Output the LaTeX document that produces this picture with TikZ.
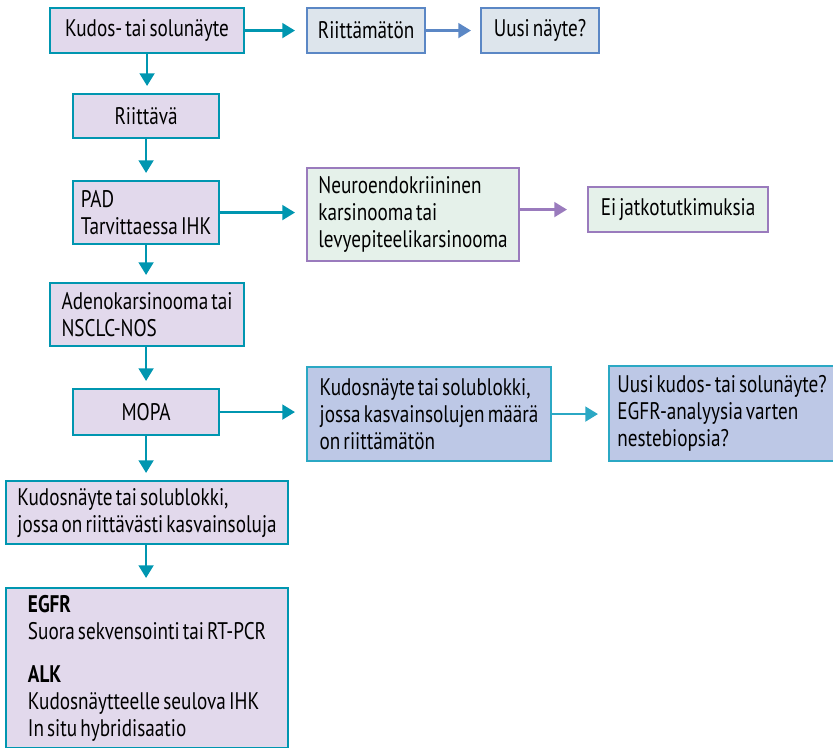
\documentclass[tikz,border=0pt]{standalone}
\usepackage{fontspec}
\setmainfont{PT Sans}[FakeStretch=0.8, WordSpace=0.6]
\usetikzlibrary{arrows.meta}

\definecolor{flowteal}{HTML}{0096B0}
\definecolor{lilacfill}{HTML}{E2D9EC}
\definecolor{blueline}{HTML}{5B87C5}
\definecolor{greyfill}{HTML}{DDE5EC}
\definecolor{purpleline}{HTML}{9A7BBD}
\definecolor{mintfill}{HTML}{E5F1EA}
\definecolor{periwinkle}{HTML}{BDC8E6}
\definecolor{cyanline}{HTML}{2BA8C4}

\tikzset{
    box/.style={draw=flowteal, fill=lilacfill, line width=1.6pt, anchor=north west,
        inner sep=0pt, align=left, font=\fontsize{18}{20.25}\selectfont},
    midbox/.style={box, align=center},
    greybox/.style={draw=blueline, fill=greyfill},
    mintbox/.style={draw=purpleline, fill=mintfill},
    bluebox/.style={draw=cyanline, fill=periwinkle},
    flow/.style={draw=flowteal, line width=2pt, -{Triangle[length=9.5pt,width=11pt]}},
}

\begin{document}
\begin{tikzpicture}[x=0.75pt,y=-0.75pt]
    \useasboundingbox (0,0) rectangle (833,748);

    % Main column
    \node[midbox, minimum width=145.5pt, minimum height=33.75pt] (sample) at (49,7) {Kudos- tai solunäyte};
    \node[midbox, minimum width=109.5pt, minimum height=33pt] (enough) at (72,93) {Riittävä};
    \node[box, minimum width=109.5pt, minimum height=47.25pt] (pad) at (72,180) {PAD\\Tarvittaessa IHK};
    \node[box, minimum width=145.5pt, minimum height=47.25pt] (adeno) at (49,282) {Adenokarsinooma tai\\NSCLC-NOS};
    \node[midbox, minimum width=109.5pt, minimum height=34.5pt] (mopa) at (72,388) {MOPA};
    \node[box, minimum width=211.5pt, minimum height=47.25pt] (block) at (5,480) {Kudosnäyte tai solublokki,\\jossa on riittävästi kasvainsoluja};
    \node[box, minimum width=211.5pt, minimum height=120pt] (tests) at (5,587)
        {\textbf{EGFR}\\Suora sekvensointi tai RT-PCR\\[12pt]\textbf{ALK}\\Kudosnäytteelle seulova IHK\\In situ hybridisaatio};

    % Side boxes
    \node[midbox, greybox, minimum width=88.5pt, minimum height=33.75pt] (scant) at (306,7) {Riittämätön};
    \node[midbox, greybox, minimum width=88.5pt, minimum height=33.75pt] (resample) at (480,7) {Uusi näyte?};
    \node[box, mintbox, minimum width=159pt, minimum height=69.75pt] (neuro) at (306,167) {Neuroendokriininen\\karsinooma tai\\levyepiteelikarsinooma};
    \node[midbox, mintbox, minimum width=135pt, minimum height=33.75pt] (nomore) at (587,186) {Ei jatkotutkimuksia};
    \node[box, bluebox, minimum width=183pt, minimum height=70.5pt] (fewcells) at (306,366) {Kudosnäyte tai solublokki,\\jossa kasvainsolujen määrä\\on riittämätön};
    \node[box, bluebox, minimum width=169.5pt, minimum height=71.25pt] (liquid) at (608,365) {Uusi kudos- tai solunäyte?\\EGFR-analyysia varten\\nestebiopsia?};

    % Downward arrows
    \draw[flow, shorten >=5.25pt] (sample.south) -- (sample.south |- enough.north);
    \draw[flow, shorten >=5.25pt] (enough) -- (pad);
    \draw[flow, shorten >=5.25pt] (pad) -- (pad |- adeno.north);
    \draw[flow, shorten >=5.25pt] (adeno.south -| mopa) -- (mopa);
    \draw[flow, shorten >=5.25pt] (mopa) -- (mopa |- block.north);
    \draw[flow, shorten >=6.75pt] (block.south -| mopa) -- (mopa |- tests.north);

    % Sideways arrows
    \draw[flow, shorten >=8.25pt] (sample) -- (scant);
    \draw[flow, draw=blueline, -{Triangle[length=9.5pt,width=11pt,fill=blueline]}, shorten >=6.75pt] (scant) -- (resample);
    \draw[flow, shorten >=8.25pt] (pad.east) -- (pad.east -| neuro.west);
    \draw[flow, draw=purpleline, shorten >=15pt] (neuro.east |- nomore) -- (nomore);
    \draw[flow, shorten >=8.25pt] (mopa.east) -- (mopa.east -| fewcells.west);
    \draw[flow, draw=cyanline, shorten >=7.5pt] (fewcells.east) -- (fewcells.east -| liquid.west);
\end{tikzpicture}
\end{document}
